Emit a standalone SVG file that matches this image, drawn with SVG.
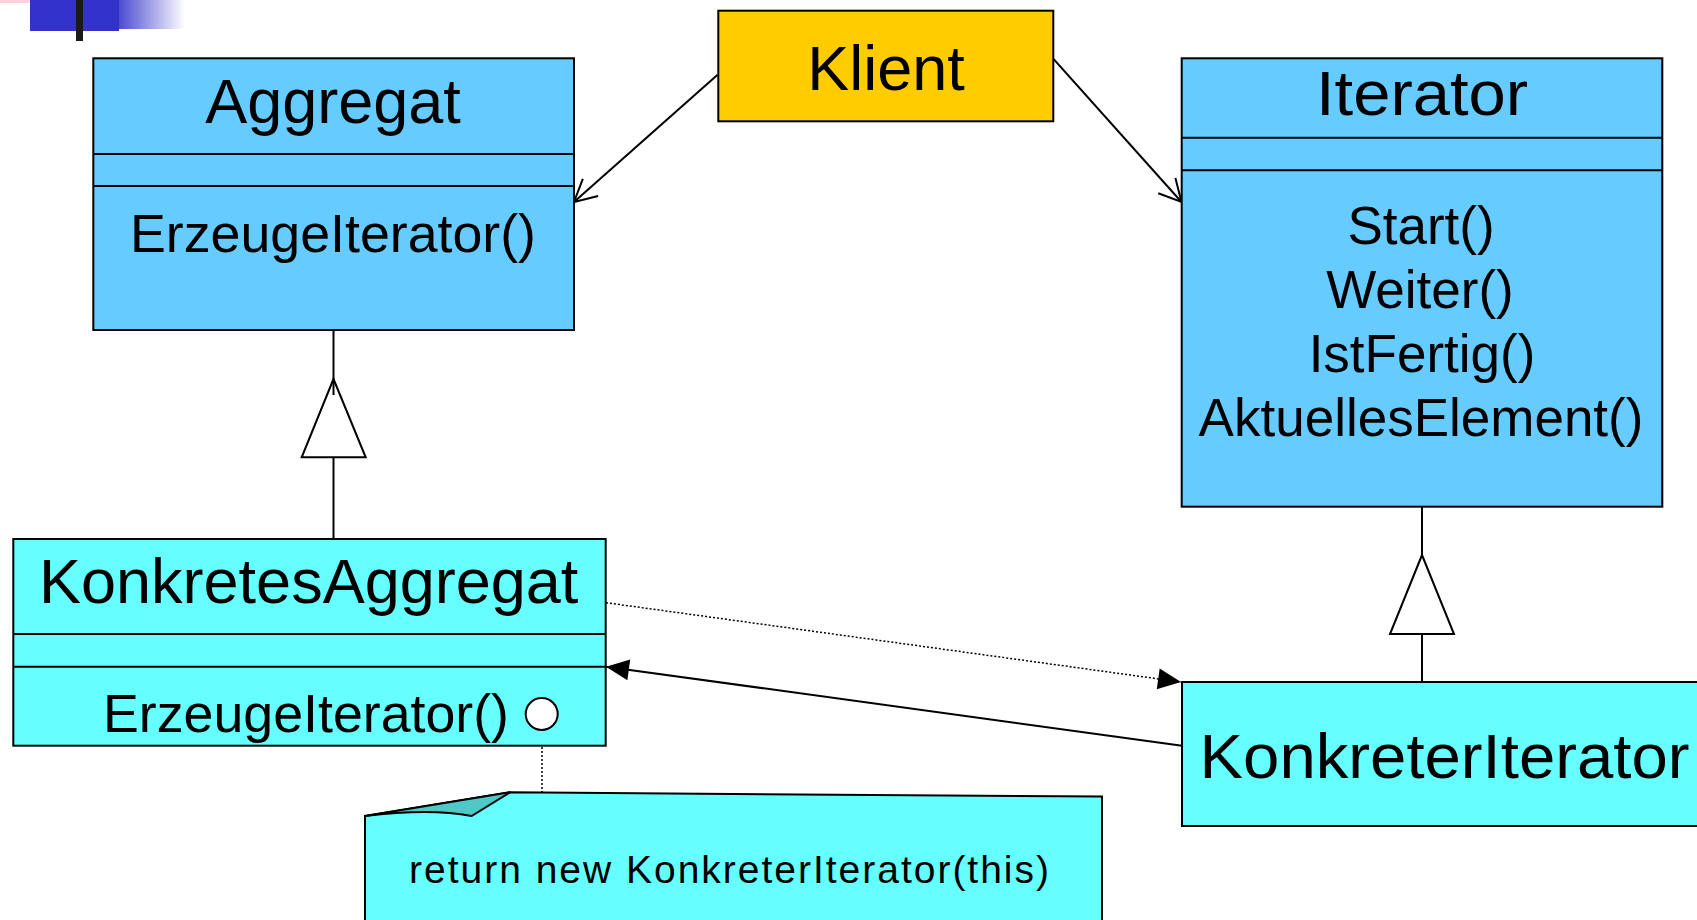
<svg xmlns="http://www.w3.org/2000/svg" width="1697" height="920" viewBox="0 0 1697 920">
<style>
.box{stroke:#000;stroke-width:2}
.agg{fill:#66CCFF}
.kon{fill:#66FFFF}
.kli{fill:#FFCC00}
.sep{stroke:#000;stroke-width:2}
.t{font-family:"Liberation Sans",Arial,sans-serif;fill:#000}
.big{font-size:63px}
.mid{font-size:53px}
.sm{font-size:39px}
.c{text-anchor:middle}
.ln{stroke:#000;stroke-width:2;fill:none}
.gen{fill:#fff;stroke:#000;stroke-width:2}
</style>
<defs>
<linearGradient id="fade" x1="0" y1="0" x2="1" y2="0">
<stop offset="0" stop-color="#3333CC"/>
<stop offset="1" stop-color="#3333CC" stop-opacity="0"/>
</linearGradient>
<marker id="open" markerUnits="userSpaceOnUse" markerWidth="30" markerHeight="30" viewBox="-25 -15 30 30" refX="0" refY="0" orient="auto">
<path d="M-22,-11.5 L0,0 L-22,11.5" fill="none" stroke="#000" stroke-width="2"/>
</marker>
<marker id="fill" markerUnits="userSpaceOnUse" markerWidth="30" markerHeight="30" viewBox="-26 -14 30 28" refX="0" refY="0" orient="auto">
<path d="M-23,-10.5 L0,0 L-23,10.5 Z" fill="#000"/>
</marker>
</defs>

<g id="logo">
<rect x="0" y="0" width="60" height="3" fill="#FFD0D8"/>
<rect x="30" y="0" width="89" height="31" fill="#3333CC"/>
<rect x="110" y="0" width="75" height="29" fill="url(#fade)"/>
<rect x="76" y="0" width="7" height="41" fill="#1a1a1a"/>
</g>

<g id="connectors">
<line class="ln" x1="717.6" y1="74.7" x2="574" y2="202" marker-end="url(#open)"/>
<line class="ln" x1="1053" y1="58.4" x2="1181.5" y2="202" marker-end="url(#open)"/>
<polygon class="gen" points="333.5,379 301.7,457.3 365.7,457.3"/>
<line class="ln" x1="333.5" y1="330" x2="333.5" y2="395"/>
<line class="ln" x1="333.5" y1="457.3" x2="333.5" y2="539"/>
<polygon class="gen" points="1422,555 1390,634 1454,634"/>
<line class="ln" x1="1422" y1="506.7" x2="1422" y2="555"/>
<line class="ln" x1="1422" y1="634" x2="1422" y2="682"/>
<line x1="606" y1="602.7" x2="1181" y2="682" stroke="#000" stroke-width="1.5" stroke-dasharray="2,2" marker-end="url(#fill)"/>
<line class="ln" x1="1182" y1="745.7" x2="606" y2="666.7" marker-end="url(#fill)"/>
<line x1="542" y1="731" x2="542" y2="807" stroke="#000" stroke-width="1.5" stroke-dasharray="2,2"/>
</g>

<g id="klient">
<rect class="box kli" x="718.3" y="10.7" width="335" height="110.6"/>
<text class="t big c" x="886" y="89.7">Klient</text>
</g>

<g id="aggregat">
<rect class="box agg" x="93.3" y="58.3" width="480.7" height="271.7"/>
<line class="sep" x1="93.3" y1="154" x2="574" y2="154"/>
<line class="sep" x1="93.3" y1="186" x2="574" y2="186"/>
<text class="t big c" x="333" y="123.3">Aggregat</text>
<text class="t mid c" x="333" y="252.3" textLength="406" lengthAdjust="spacingAndGlyphs">ErzeugeIterator()</text>
</g>

<g id="iterator">
<rect class="box agg" x="1181.7" y="58.3" width="480.6" height="448.4"/>
<line class="sep" x1="1181.7" y1="137.7" x2="1662.3" y2="137.7"/>
<line class="sep" x1="1181.7" y1="170.3" x2="1662.3" y2="170.3"/>
<text class="t big c" x="1422" y="115" textLength="212" lengthAdjust="spacingAndGlyphs">Iterator</text>
<text class="t mid c" x="1421" y="244">Start()</text>
<text class="t mid c" x="1420" y="307.5">Weiter()</text>
<text class="t mid c" x="1422" y="371.5">IstFertig()</text>
<text class="t mid c" x="1421" y="435.5">AktuellesElement()</text>
</g>

<g id="konkretesAggregat">
<rect class="box kon" x="13.3" y="539" width="592.4" height="206.7"/>
<line class="sep" x1="13.3" y1="634" x2="605.7" y2="634"/>
<line class="sep" x1="13.3" y1="666.7" x2="605.7" y2="666.7"/>
<text class="t big" x="39" y="603.3">KonkretesAggregat</text>
<text class="t mid" x="103" y="732.3" textLength="406" lengthAdjust="spacingAndGlyphs">ErzeugeIterator()</text>
<circle cx="541.7" cy="714" r="16" fill="#fff" stroke="#000" stroke-width="2"/>
</g>

<g id="konkreterIterator">
<rect class="box kon" x="1182" y="682" width="530" height="144"/>
<text class="t big" x="1199.5" y="778.3" textLength="490" lengthAdjust="spacingAndGlyphs">KonkreterIterator</text>
</g>

<g id="note">
<path d="M365,816 L510,792.3 L1102,796.6 L1102,930 L365,930 Z" fill="#66FFFF" stroke="#000" stroke-width="2"/>
<path d="M365,816 L510,792.3 L471.7,816 Q430,808 365,816 Z" fill="#4FC8C8" stroke="#000" stroke-width="2" stroke-linejoin="round"/>
<text class="t sm" x="409" y="882.7" textLength="640" lengthAdjust="spacing">return new KonkreterIterator(this)</text>
</g>
</svg>
